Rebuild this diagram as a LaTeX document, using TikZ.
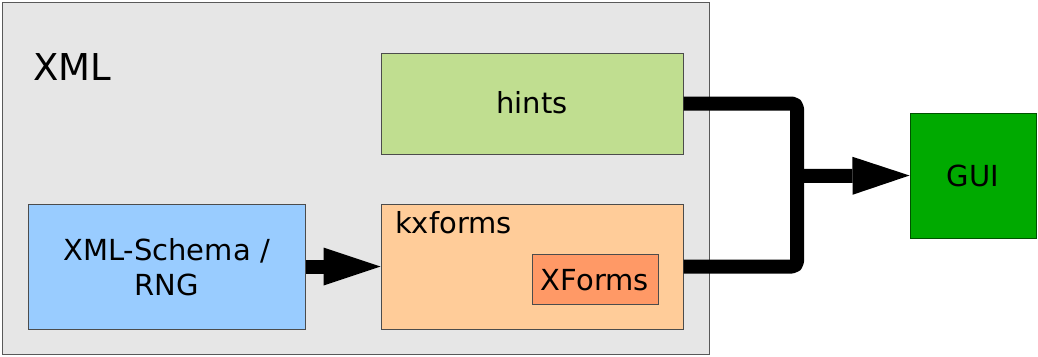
\documentclass[tikz,border=0pt]{standalone}
\usepackage{fontspec}
\setmainfont{DejaVu Sans}
\usetikzlibrary{arrows.meta}
\definecolor{xmlgray}{HTML}{E6E6E6}
\definecolor{hintgreen}{HTML}{C0DE90}
\definecolor{schemablue}{HTML}{99CCFF}
\definecolor{kxorange}{HTML}{FFCC99}
\definecolor{xfdark}{HTML}{FF9966}
\definecolor{guigreen}{HTML}{00AA00}
\tikzset{
  box/.style={draw=black!70, line width=1pt, inner sep=0pt, rectangle,
    font=\fontsize{29}{35}\selectfont},
  conn/.style={line width=14pt, line join=round},
  bigarrow/.style={conn, -{Triangle[length=57pt,width=38pt,line width=0pt]}},
}
\begin{document}
\begin{tikzpicture}[x=1pt,y=-1pt]
\useasboundingbox (0,0) rectangle (1038,356);
% outer XML frame
\node[box, fill=xmlgray, draw=black!65, minimum width=707pt, minimum height=352pt] (xml) at (355.5,178) {};
\node[anchor=base west, inner sep=0pt, font=\fontsize{37}{44}\selectfont] (xmllabel) at (33,80) {XML};
% inner boxes
\node[box, fill=hintgreen, minimum width=302pt, minimum height=101pt] (hints) at (532,103.5) {};
\node[inner sep=0pt, font=\fontsize{29}{35}\selectfont, anchor=base] (hintstext) at (532,113) {hints};
\node[box, fill=schemablue, minimum width=277pt, minimum height=125pt] (schema) at (166.5,266.5) {};
\node[inner sep=0pt, font=\fontsize{29}{35}\selectfont, anchor=base] (schemaA) at (166.5,260) {XML-Schema /};
\node[inner sep=0pt, font=\fontsize{29}{35}\selectfont, anchor=base] (schemaB) at (166.5,295) {RNG};
\node[box, fill=kxorange, minimum width=302pt, minimum height=125pt] (kx) at (532,266.5) {};
\node[inner sep=0pt, font=\fontsize{29}{35}\selectfont, anchor=base west] (kxtext) at (395,233) {kxforms};
\node[box, fill=xfdark, minimum width=126pt, minimum height=50pt] (xf) at (595,279) {};
\node[inner sep=0pt, font=\fontsize{29}{35}\selectfont, anchor=base] (xftext) at (595,290) {XForms};
% GUI
\node[box, fill=guigreen, draw=black!60!green!80!black, minimum width=126pt, minimum height=125pt] (gui) at (973,175.5) {};
\node[inner sep=0pt, font=\fontsize{29}{35}\selectfont, anchor=base] (guitext) at (973,186) {GUI};
% connectors
\coordinate (join) at (797,176);
\draw[conn, rounded corners=5pt] (hints.east) -| (join) |- (kx.east);
\draw[bigarrow] (join) -- (gui.west);
\draw[bigarrow] (schema.east) -- (kx.west);
\end{tikzpicture}
\end{document}
